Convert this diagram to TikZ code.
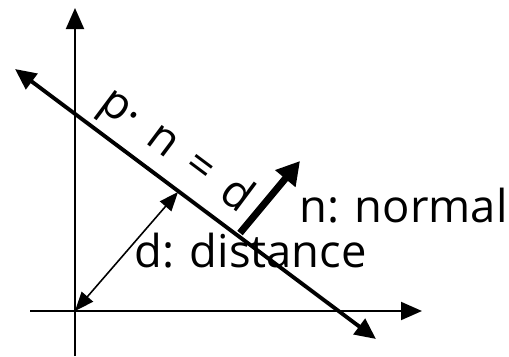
\documentclass[tikz,border=0pt]{standalone}
\usepackage{fontspec}
\setmainfont{Open Sans}
\usepackage{tikz}
\usetikzlibrary{arrows.meta,positioning,calc}

\begin{document}
\begin{tikzpicture}[
  axis/.style={line width=1.1pt, -{Triangle[length=4.2mm, width=3.6mm]}},
  planeline/.style={line width=2.2pt, {Triangle[length=4.2mm, width=3.8mm]}-{Triangle[length=4.2mm, width=3.8mm]}},
  distarr/.style={line width=0.9pt, {Triangle[length=3.8mm, width=3mm]}-{Triangle[length=3.8mm, width=3mm]}},
  normarr/.style={line width=4pt, -{Triangle[length=4.6mm, width=5mm]}},
  lbl/.style={font=\fontsize{25.8}{30}\selectfont, inner sep=0pt}
]
\useasboundingbox (0,0) rectangle (10.18,7.12);

% axes
\coordinate (O) at (1.5,0.9);
\coordinate (ybot) at (1.5,0);
\coordinate (ytop) at (1.5,6.96);
\coordinate (xleft) at (0.6,0.9);
\coordinate (xright) at (8.44,0.9);
\draw[axis] (ybot) -- (ytop);
\draw[axis] (xleft) -- (xright);

% plane p.n = d
\coordinate (pA) at (0.3,5.74);
\coordinate (pB) at (7.52,0.34);
\draw[planeline] (pA) -- (pB);
\node[lbl, rotate=-36.8, anchor=base] (eq) at (3.37,3.9)
  {p·\hspace{0.42em}n\hspace{0.42em}=\hspace{0.42em}d};

% distance and normal
\coordinate (foot) at (3.56,3.28);
\draw[distarr] (O) -- (foot);
\coordinate (nbase) at (4.8,2.46);
\coordinate (ntip) at (6.0,3.9);
\draw[normarr] (nbase) -- (ntip);

\node[lbl, anchor=base west] (nlabel) at (5.98,2.68) {n: normal};
\node[lbl, anchor=base west] (dlabel) at (2.68,1.78) {d: distance};
\end{tikzpicture}
\end{document}
